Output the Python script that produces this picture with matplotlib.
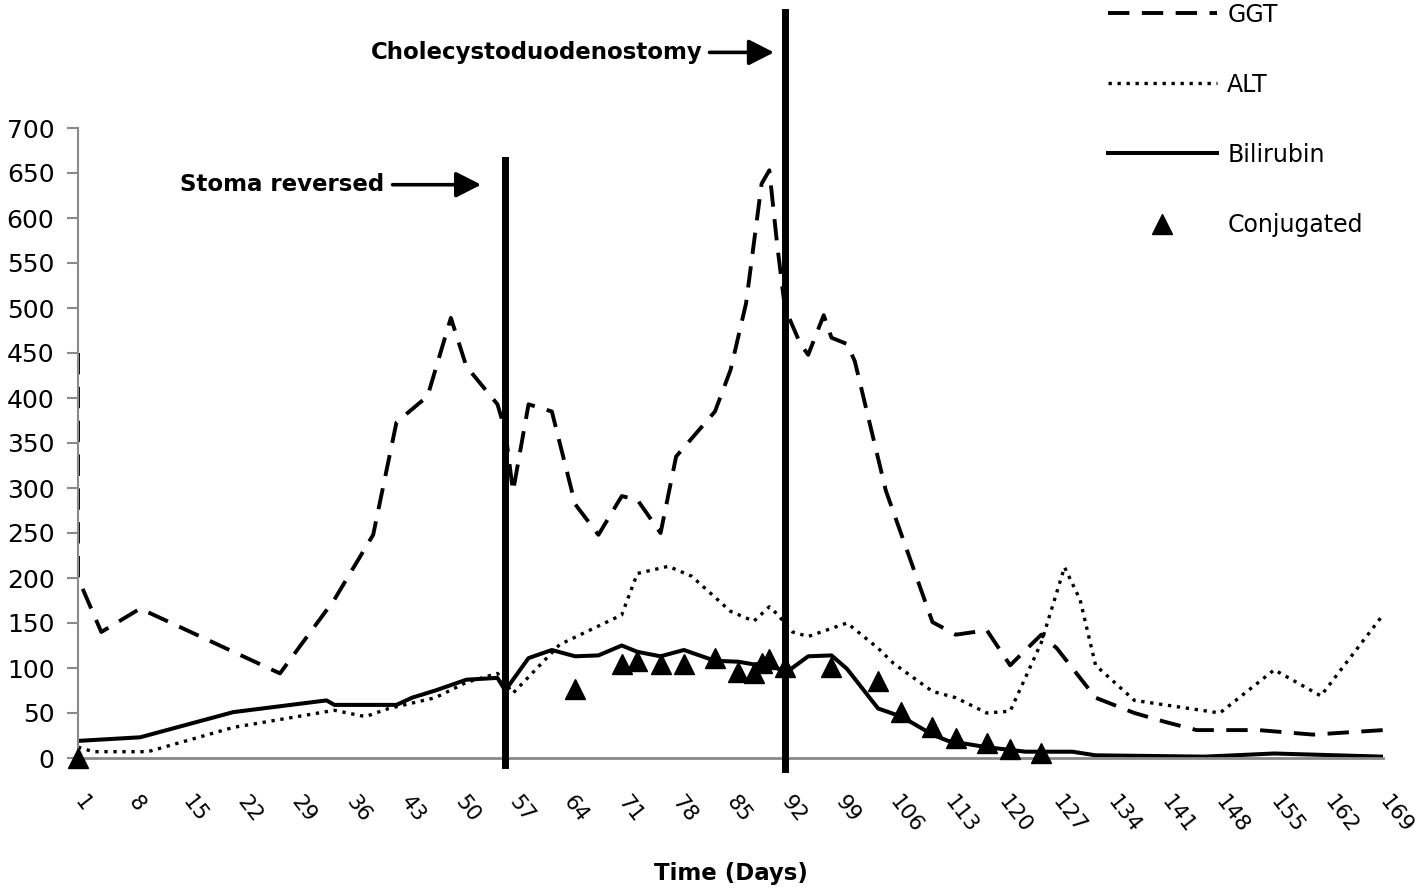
import matplotlib
matplotlib.use("Agg")
import matplotlib.pyplot as plt
from matplotlib.lines import Line2D

# ------------------------------------------------------------------
# Data
# ------------------------------------------------------------------
tick_days = list(range(1, 170, 7))
y_ticks = list(range(0, 701, 50))

ggt_days = [1, 1, 4, 9, 27, 34, 39, 42, 46, 49, 51, 55, 56, 57, 59, 62, 65,
            68, 71, 73, 76, 78, 83, 85, 87, 89, 90, 91, 92, 94, 95, 97, 98,
            100, 101, 105, 111, 114, 118, 121, 125, 127, 132, 137, 141, 145,
            153, 160, 169]
ggt_vals = [450, 200, 140, 166, 94, 176, 248, 373, 402, 489, 435, 393, 364,
            296, 393, 385, 282, 248, 291, 287, 250, 335, 385, 431, 505, 638,
            653, 571, 500, 460, 448, 492, 467, 460, 441, 297, 151, 137, 142,
            103, 137, 122, 67, 50, 40, 31, 31, 26, 31]

alt_days = [1, 3, 10, 21, 34, 38, 41, 47, 51, 55, 57, 63, 71, 73, 77, 80, 85,
            88, 90, 91, 93, 95, 100, 104, 106, 111, 114, 118, 121, 125, 128,
            130, 132, 137, 148, 155, 161, 169]
alt_vals = [12, 7, 7, 34, 53, 46, 55, 67, 84, 94, 72, 126, 159, 205, 213, 202,
            163, 152, 168, 160, 140, 135, 150, 122, 105, 74, 67, 50, 52, 128,
            212, 176, 103, 64, 50, 98, 69, 159]

bili_days = [1, 9, 21, 33, 34, 42, 44, 47, 51, 55, 56, 59, 62, 65, 68, 71, 73,
             76, 79, 83, 86, 88, 90, 92, 95, 98, 100, 104, 107, 111, 113, 118,
             123, 129, 132, 146, 155, 169]
bili_vals = [19, 23, 51, 64, 59, 59, 67, 75, 87, 89, 75, 111, 120, 113, 114,
             125, 118, 113, 120, 108, 107, 104, 106, 94, 113, 114, 99, 55, 46,
             26, 19, 12, 7, 7, 3, 1.5, 5, 1.5]

conj_days = [1, 65, 71, 73, 76, 79, 83, 86, 88, 89, 90, 92, 98, 104, 107, 111,
             114, 118, 121, 125]
conj_vals = [0, 77, 104, 108, 104, 104, 111, 96, 94, 106, 110, 101, 101, 86,
             51, 34, 22, 17, 10, 6]

# surgical events
stoma_day = 56
chole_day = 92

plt.rcParams["font.family"] = "DejaVu Sans"

# ------------------------------------------------------------------
# Figure
# ------------------------------------------------------------------
fig = plt.figure(figsize=(14.18, 8.91), dpi=100)
ax = fig.add_axes([78 / 1418, 1 - 758 / 891, (1383 - 78) / 1418, 630 / 891])

ggt_style = dict(color="black", lw=2.8, dashes=(5.5, 3.2))
alt_style = dict(color="black", lw=2.4, dashes=(1, 1.7))
bili_style = dict(color="black", lw=2.9)

ax.plot(ggt_days, ggt_vals, **ggt_style)
ax.plot(alt_days, alt_vals, **alt_style)
ax.plot(bili_days, bili_vals, **bili_style)
ax.plot(conj_days, conj_vals, linestyle="none", marker="^", ms=14,
        color="black", clip_on=False, zorder=4)

# event lines
ax.axvline(stoma_day, ymin=-8 / 700, ymax=664 / 700, color="black", lw=5,
           clip_on=False, zorder=5)
ax.axvline(chole_day, ymin=-12 / 700, ymax=829 / 700, color="black", lw=5,
           clip_on=False, zorder=5)

# event annotations
arrow = dict(arrowstyle="-|>,head_length=0.55,head_width=0.28", lw=2.6,
             color="black", mutation_scale=28, shrinkA=0, shrinkB=0)
ax.annotate("", xy=(52.9, 637), xytext=(41.5, 637), annotation_clip=False,
            arrowprops=arrow)
ax.text(40.4, 637, "Stoma reversed", ha="right", va="center",
        fontsize=16.5, fontweight="bold")
ax.annotate("", xy=(90.6, 784), xytext=(82.3, 784), annotation_clip=False,
            arrowprops=arrow)
ax.text(81.4, 784, "Cholecystoduodenostomy", ha="right", va="center",
        fontsize=16.5, fontweight="bold", clip_on=False)

# axes styling
ax.set_xlim(1, 169)
ax.set_ylim(0, 700)
ax.set_yticks(y_ticks)
ax.set_xticks(tick_days)
ax.set_xticklabels([str(d) for d in tick_days], rotation=-52, ha="left",
                   va="center", rotation_mode="anchor")
ax.tick_params(axis="x", length=0, pad=29, labelsize=15.5)
ax.tick_params(axis="y", length=8, width=1.5, color="#8a8a8a", pad=9,
               labelsize=18)
for side in ("top", "right"):
    ax.spines[side].set_visible(False)
ax.spines["left"].set_color("#8a8a8a")
ax.spines["left"].set_linewidth(1.5)
ax.spines["bottom"].set_color("#8a8a8a")
ax.spines["bottom"].set_linewidth(2)

ax.set_xlabel("Time (Days)", fontsize=16.5, fontweight="bold")
ax.xaxis.set_label_coords(0.5, -0.165)

# legend, outside the plot area at the top right
handles = [
    Line2D([], [], **ggt_style),
    Line2D([], [], **alt_style),
    Line2D([], [], **bili_style),
    Line2D([], [], color="black", linestyle="none", marker="^", ms=14),
]
fig.legend(handles, ["GGT", "ALT", "Bilirubin", "Conjugated"],
           loc="upper left", bbox_to_anchor=(1108 / 1418, 0.997),
           frameon=False, fontsize=17, handlelength=4.6, handletextpad=0.45,
           labelspacing=1.95, borderpad=0.0, borderaxespad=0.0)

fig.savefig("out.png", dpi=100)
